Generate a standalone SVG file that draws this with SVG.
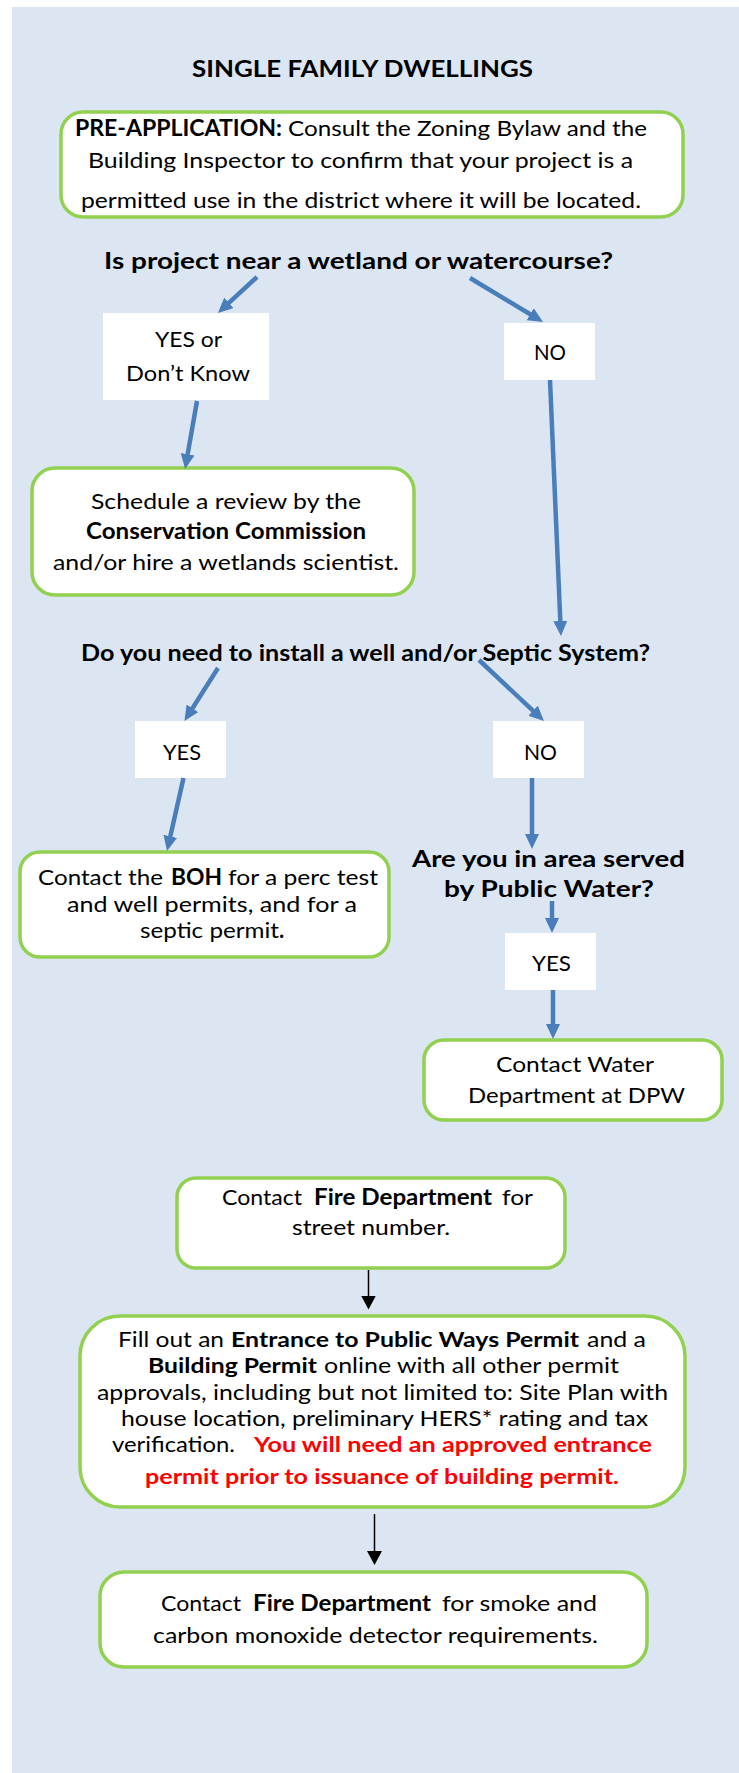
<svg xmlns="http://www.w3.org/2000/svg" width="739" height="1773" viewBox="0 0 739 1773">
<style>
text{font-family:Lato,"Open Sans","Liberation Sans",sans-serif;fill:#000;font-size:22px}
.b{font-weight:bold}
.r{font-weight:bold;fill:#ff0000}
.s21{font-size:21px}
.box{fill:#fff;stroke:#92d050;stroke-width:3.5}
.lbl{fill:#fff}
.arr{stroke:#4a7ebb;stroke-width:4.5;fill:none;marker-end:url(#ab)}
.karr{stroke:#000;stroke-width:1.5;fill:none;marker-end:url(#ak)}
</style>
<defs>
<marker id="ab" markerUnits="userSpaceOnUse" markerWidth="15" markerHeight="14" refX="2" refY="7" orient="auto"><path d="M0,0 L15,7 L0,14 z" fill="#4a7ebb"/></marker>
<marker id="ak" markerUnits="userSpaceOnUse" markerWidth="14" markerHeight="15" refX="1" refY="7.5" orient="auto"><path d="M0,0 L14,7.5 L0,15 z" fill="#000"/></marker>
</defs>
<rect x="12" y="7" width="727" height="1766" fill="#dce6f2"/>
<g id="title"><text class="b" x="192" y="77" font-size="26" textLength="341" lengthAdjust="spacingAndGlyphs">SINGLE FAMILY DWELLINGS</text></g>
<g id="preapp">
<rect class="box" x="61" y="112" width="622" height="105" rx="22"/>
<text class="b" x="75" y="136" textLength="207" lengthAdjust="spacingAndGlyphs">PRE-APPLICATION:</text>
<text x="288" y="136" textLength="359" lengthAdjust="spacingAndGlyphs">Consult the Zoning Bylaw and the</text>
<text x="88" y="168" textLength="545" lengthAdjust="spacingAndGlyphs">Building Inspector to confirm that your project is a</text>
<text x="81" y="208" textLength="560" lengthAdjust="spacingAndGlyphs">permitted use in the district where it will be located.</text>
</g>
<g id="q1"><text class="b" x="104" y="269" font-size="24.5" textLength="509" lengthAdjust="spacingAndGlyphs">Is project near a wetland or watercourse?</text></g>
<g id="yes1">
<rect class="lbl" x="103" y="313" width="166" height="87"/>
<text x="155" y="347" font-size="23" textLength="67" lengthAdjust="spacingAndGlyphs">YES or</text>
<text x="126" y="381" font-size="23" textLength="124" lengthAdjust="spacingAndGlyphs">Don’t Know</text>
</g>
<g id="no1">
<rect class="lbl" x="504" y="323" width="91" height="57"/>
<text x="534" y="360" font-size="23" textLength="32" lengthAdjust="spacingAndGlyphs">NO</text>
</g>
<g id="conservation">
<rect class="box" x="32" y="468" width="382" height="127" rx="23"/>
<text x="91" y="509" textLength="270" lengthAdjust="spacingAndGlyphs">Schedule a review by the</text>
<text class="b" x="86" y="539" textLength="280" lengthAdjust="spacingAndGlyphs">Conservation Commission</text>
<text x="53" y="570" textLength="346" lengthAdjust="spacingAndGlyphs">and/or hire a wetlands scientist.</text>
</g>
<g id="q2"><text class="b" x="81" y="661" font-size="22.5" textLength="569" lengthAdjust="spacingAndGlyphs">Do you need to install a well and/or Septic System?</text></g>
<g id="yes2">
<rect class="lbl" x="135" y="721" width="91" height="57"/>
<text x="163" y="760" font-size="23" textLength="38" lengthAdjust="spacingAndGlyphs">YES</text>
</g>
<g id="no2">
<rect class="lbl" x="493" y="721" width="91" height="57"/>
<text x="524" y="760" font-size="23" textLength="33" lengthAdjust="spacingAndGlyphs">NO</text>
</g>
<g id="boh">
<rect class="box" x="20" y="852" width="369" height="105" rx="20"/>
<text x="38" y="885" textLength="125" lengthAdjust="spacingAndGlyphs">Contact the</text>
<text class="b" x="171" y="885" textLength="51" lengthAdjust="spacingAndGlyphs">BOH</text>
<text x="228" y="885" textLength="150" lengthAdjust="spacingAndGlyphs">for a perc test</text>
<text x="67" y="912" textLength="290" lengthAdjust="spacingAndGlyphs">and well permits, and for a</text>
<text x="140" y="938" textLength="139" lengthAdjust="spacingAndGlyphs">septic permit</text>
<text class="b" x="279" y="938">.</text>
</g>
<g id="q3">
<text class="b" x="412" y="867" font-size="23" textLength="273" lengthAdjust="spacingAndGlyphs">Are you in area served</text>
<text class="b" x="444" y="897" font-size="23" textLength="210" lengthAdjust="spacingAndGlyphs">by Public Water?</text>
</g>
<g id="yes3">
<rect class="lbl" x="505" y="933" width="91" height="57"/>
<text x="532" y="971" font-size="23" textLength="39" lengthAdjust="spacingAndGlyphs">YES</text>
</g>
<g id="water">
<rect class="box" x="424" y="1040" width="298" height="80" rx="20"/>
<text x="496" y="1072" textLength="158" lengthAdjust="spacingAndGlyphs">Contact Water</text>
<text x="468" y="1103" textLength="217" lengthAdjust="spacingAndGlyphs">Department at DPW</text>
</g>
<g id="fire">
<rect class="box" x="177" y="1178" width="388" height="90" rx="19"/>
<text x="222" y="1205" textLength="80" lengthAdjust="spacingAndGlyphs">Contact</text>
<text class="b" x="314" y="1205" textLength="178" lengthAdjust="spacingAndGlyphs">Fire Department</text>
<text x="502" y="1205" textLength="31" lengthAdjust="spacingAndGlyphs">for</text>
<text x="292" y="1235" textLength="158" lengthAdjust="spacingAndGlyphs">street number.</text>
</g>
<g id="permits">
<rect class="box" x="80" y="1316" width="605" height="191" rx="40"/>
<text class="s21" x="118" y="1347" textLength="106" lengthAdjust="spacingAndGlyphs">Fill out an</text>
<text class="s21 b" x="231" y="1347" textLength="348" lengthAdjust="spacingAndGlyphs">Entrance to Public Ways Permit</text>
<text class="s21" x="587" y="1347" textLength="59" lengthAdjust="spacingAndGlyphs">and a</text>
<text class="s21 b" x="148" y="1373" textLength="169" lengthAdjust="spacingAndGlyphs">Building Permit</text>
<text class="s21" x="324" y="1373" textLength="295" lengthAdjust="spacingAndGlyphs">online with all other permit</text>
<text class="s21" x="97" y="1400" textLength="571" lengthAdjust="spacingAndGlyphs">approvals, including but not limited to: Site Plan with</text>
<text class="s21" x="121" y="1426" textLength="527" lengthAdjust="spacingAndGlyphs">house location, preliminary HERS* rating and tax</text>
<text class="s21" x="112" y="1452" textLength="123" lengthAdjust="spacingAndGlyphs">verification.</text>
<text class="s21 r" x="254" y="1452" textLength="398" lengthAdjust="spacingAndGlyphs">You will need an approved entrance</text>
<text class="s21 r" x="145" y="1484" textLength="474" lengthAdjust="spacingAndGlyphs">permit prior to issuance of building permit.</text>
</g>
<g id="smoke">
<rect class="box" x="100" y="1572" width="547" height="95" rx="24"/>
<text x="161" y="1611" textLength="80" lengthAdjust="spacingAndGlyphs">Contact</text>
<text class="b" x="253" y="1611" textLength="178" lengthAdjust="spacingAndGlyphs">Fire Department</text>
<text x="442" y="1611" textLength="155" lengthAdjust="spacingAndGlyphs">for smoke and</text>
<text x="153" y="1643" textLength="445" lengthAdjust="spacingAndGlyphs">carbon monoxide detector requirements.</text>
</g>
<g id="connectors">
<line class="arr" x1="257" y1="277" x2="227.5" y2="304.2"/>
<line class="arr" x1="470" y1="278" x2="531.9" y2="315.3"/>
<line class="arr" x1="197" y1="401" x2="187.3" y2="456.2"/>
<line class="arr" x1="550" y1="380" x2="560.4" y2="623"/>
<line class="arr" x1="218" y1="668" x2="191.4" y2="710"/>
<line class="arr" x1="183.5" y1="778" x2="169.9" y2="838.3"/>
<line class="arr" x1="479" y1="660" x2="534.5" y2="712.1"/>
<line class="arr" x1="532" y1="778" x2="532" y2="836"/>
<line class="arr" x1="552" y1="901" x2="552" y2="920"/>
<line class="arr" x1="553" y1="990" x2="553" y2="1026"/>
<line class="karr" x1="368.5" y1="1270" x2="368.5" y2="1296.5"/>
<line class="karr" x1="374.5" y1="1514" x2="374.5" y2="1552"/>
</g>
</svg>
